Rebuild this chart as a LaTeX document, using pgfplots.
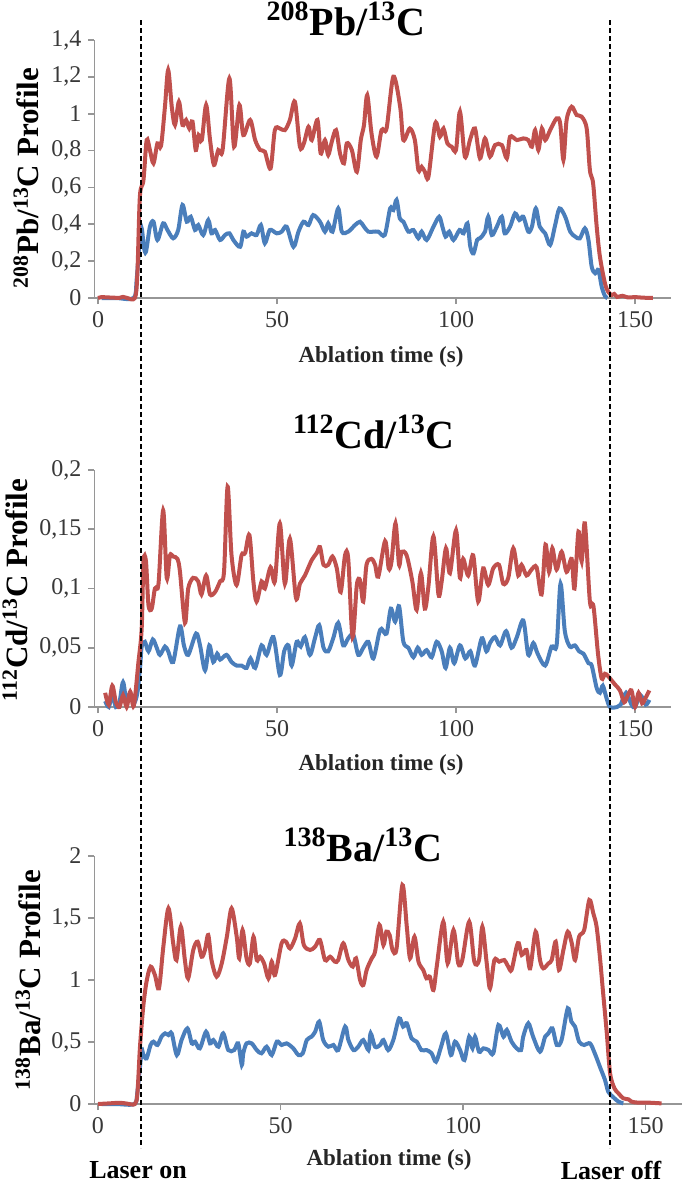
\documentclass[border=0pt]{standalone}
\usepackage{fontspec}
\setmainfont{Liberation Serif}
\usepackage{pgfplots}
\pgfplotsset{compat=1.18}
\definecolor{cred}{RGB}{192,80,77}
\definecolor{cblue}{RGB}{74,126,187}
\definecolor{axgray}{RGB}{150,150,150}
\pgfplotsset{panel/.style={
  scale only axis, xmin=-1, xmax=160, ymin=0,
  axis x line*=bottom, axis y line*=left,
  axis line style={draw=axgray, line width=0.8pt, -},
  every tick/.style={draw=axgray, line width=0.8pt},
  tick align=outside, major tick length=3pt,
  xtick={0,50,100,150}, xticklabels={0,50,100,150},
  tick label style={font=\fontsize{12}{14}\selectfont, text=black!78},
  scaled y ticks=false, scaled x ticks=false,
  anchor=south west, clip=false,
  every axis plot/.append style={line width=2pt, smooth, tension=0.5, no markers},
}}
\begin{document}
\begin{tikzpicture}
\useasboundingbox (0,0) rectangle (342.5pt,-591.5pt);
% ---------------- Panel 1 : Pb ----------------
\begin{axis}[panel, at={(47.21pt,-149pt)}, width=288.19pt, height=129pt, ymax=1.4,
  ytick={0,0.2,0.4,0.6,0.8,1,1.2,1.4}, yticklabels={0,{0,2},{0,4},{0,6},{0,8},1,{1,2},{1,4}}]
\addplot[cblue] coordinates {
(1,0)(5,0)(10,0)(10.8,0.1)(11.6,0.3)(12.2,0.378)(12.8,0.278)(13.4,0.251)(14.5,0.387)(15.5,0.414)(16.6,0.315)(18.2,0.405)(19.4,0.369)(21.0,0.324)(22.4,0.369)(23.6,0.505)(24.8,0.414)(25.9,0.441)(27.1,0.369)(28.0,0.396)(29.4,0.342)(30.8,0.423)(31.7,0.351)(32.7,0.369)(34.1,0.315)(35.5,0.342)(36.7,0.351)(37.8,0.315)(39.7,0.278)(40.6,0.360)(41.5,0.333)(42.9,0.351)(44.3,0.342)(45.5,0.396)(46.6,0.297)(48.0,0.369)(49.9,0.351)(51.3,0.360)(52.7,0.387)(54.6,0.278)(56.0,0.360)(57.4,0.414)(58.8,0.396)(60.1,0.450)(62.0,0.414)(63.4,0.360)(64.3,0.405)(65.5,0.360)(67.1,0.486)(68.1,0.360)(69.9,0.360)(71.8,0.396)(73.2,0.414)(74.3,0.387)(75.5,0.360)(76.9,0.360)(78.3,0.360)(80.1,0.342)(81.6,0.486)(82.5,0.477)(83.4,0.532)(84.3,0.432)(85.3,0.414)(86.7,0.360)(88.1,0.369)(89.5,0.324)(90.4,0.360)(91.8,0.315)(93.7,0.387)(95.3,0.441)(96.2,0.387)(97.1,0.333)(98.1,0.360)(99.3,0.315)(101.0,0.369)(102.1,0.351)(103.2,0.405)(104.0,0.278)(104.9,0.242)(105.9,0.315)(106.7,0.324)(108.1,0.360)(109.0,0.441)(110.0,0.342)(111.4,0.387)(112.8,0.441)(113.6,0.351)(115.1,0.387)(116.5,0.459)(117.7,0.423)(118.8,0.441)(120.2,0.360)(121.2,0.387)(122.3,0.486)(123.4,0.387)(124.9,0.351)(126.3,0.288)(127.7,0.396)(128.9,0.486)(130.5,0.441)(131.9,0.360)(133.3,0.333)(134.6,0.324)(136.0,0.378)(137.0,0.315)(137.9,0.170)(138.9,0.134)(139.8,0.152)(140.7,0.061)(141.6,0.011)(142.3,0)
};
\addplot[cred] coordinates {
(0,0)(1,0.005)(2,0.004)(4,0.002)(6,0.001)(7,0.006)(8,0.001)(10.3,0)(11.0,0.134)(11.7,0.552)(12.7,0.640)(13.6,0.857)(14.5,0.803)(15.5,0.731)(16.6,0.839)(17.6,0.825)(18.7,1.038)(19.6,1.237)(20.6,1.038)(21.5,0.939)(22.6,1.065)(23.6,0.939)(24.6,0.966)(25.5,0.920)(26.4,0.957)(27.3,0.803)(28.1,0.884)(29.0,0.857)(30.2,1.047)(31.3,0.857)(32.4,0.722)(33.6,0.803)(34.8,0.803)(36.7,1.192)(38.0,0.821)(39.5,1.047)(40.6,0.884)(42.5,0.966)(43.9,0.857)(45.3,0.803)(46.6,0.794)(48.2,0.703)(49.4,0.911)(50.8,0.920)(52.2,0.911)(53.6,0.966)(55.0,1.065)(56.4,0.821)(57.5,0.839)(58.8,0.929)(59.7,0.857)(61.3,0.966)(62.2,0.785)(63.4,0.857)(64.3,0.776)(65.3,0.848)(66.5,0.911)(67.6,0.785)(68.7,0.731)(69.5,0.839)(70.9,0.803)(72.3,0.685)(73.4,0.857)(74.3,0.939)(75.2,1.101)(76.4,0.893)(77.8,0.767)(79.2,0.911)(80.6,0.920)(82.5,1.201)(84.4,1.038)(85.3,0.857)(87.1,0.920)(88.5,0.857)(89.5,0.694)(90.4,0.712)(91.3,0.685)(92.3,0.658)(94.2,0.948)(95.5,0.875)(96.5,0.920)(97.6,0.839)(98.8,0.821)(100.0,0.803)(101.1,1.011)(102.5,0.767)(103.9,0.857)(105.3,0.920)(106.7,0.758)(108.1,0.866)(109.5,0.767)(110.9,0.830)(112.8,0.830)(114.2,0.758)(115.1,0.875)(117.0,0.857)(118.8,0.866)(120.2,0.857)(121.2,0.821)(122.1,0.911)(123.0,0.803)(124.0,0.920)(124.9,0.857)(126.3,0.911)(128.1,0.975)(129.1,0.948)(130.0,0.749)(130.9,0.966)(132.3,1.038)(133.7,0.993)(135.1,0.984)(136.5,0.920)(137.4,0.694)(138.3,0.622)(139.3,0.387)(140.2,0.224)(141.6,0.080)(142.5,0.034)(143.5,0.016)(144.2,0.022)(145.0,0.006)(146.5,0.012)(148,0.003)(150,0.005)(152,0.002)(155,0)
};
\end{axis}
% ---------------- Panel 2 : Cd ----------------
\begin{axis}[panel, at={(47.21pt,-353.5pt)}, width=288.19pt, height=118.5pt, ymax=0.2,
  ytick={0,0.05,0.1,0.15,0.2}, yticklabels={0,{0,05},{0,1},{0,15},{0,2}}]
\addplot[cblue] coordinates {
(2,0.005)(3,0.0)(4,0.010)(5,0.0)(6,0.004)(7,0.021)(8,0.004)(9,0.012)(10,0.003)(11,0.012)(11.8,0.035)(12.2,0.051)(13.1,0.055)(14.1,0.047)(15.3,0.057)(16.4,0.050)(17.3,0.044)(18.7,0.051)(19.6,0.047)(21.0,0.038)(22.9,0.068)(24.0,0.052)(25.2,0.044)(27.4,0.062)(28.5,0.052)(29.9,0.031)(31.1,0.052)(32.2,0.038)(33.3,0.045)(34.1,0.040)(35.9,0.044)(37.3,0.038)(38.7,0.035)(40.1,0.035)(41.5,0.033)(42.6,0.041)(43.9,0.033)(45.7,0.052)(47.1,0.044)(49.0,0.059)(50.8,0.027)(52.0,0.047)(53.2,0.052)(54.1,0.035)(55.5,0.055)(56.6,0.051)(57.8,0.059)(59.2,0.044)(60.6,0.058)(61.8,0.069)(63.0,0.050)(64.3,0.047)(65.7,0.058)(67.1,0.071)(68.5,0.052)(69.9,0.058)(71.3,0.061)(72.7,0.044)(74.1,0.050)(75.5,0.055)(76.9,0.041)(78.5,0.062)(79.2,0.066)(80.6,0.062)(81.8,0.083)(83.0,0.072)(84.1,0.085)(85.3,0.055)(86.7,0.050)(88.1,0.042)(89.3,0.050)(90.4,0.044)(91.8,0.048)(93.2,0.042)(94.6,0.055)(96.0,0.047)(97.1,0.033)(98.3,0.050)(99.5,0.037)(101.1,0.052)(102.6,0.041)(104.0,0.047)(105.3,0.035)(107.2,0.058)(108.5,0.047)(109.5,0.054)(110.9,0.059)(112.3,0.052)(114.0,0.064)(115.5,0.050)(117.0,0.059)(118.8,0.073)(120.2,0.044)(121.6,0.054)(122.8,0.045)(124.9,0.035)(126.7,0.051)(128.1,0.052)(129.2,0.104)(130.4,0.064)(131.8,0.051)(133.2,0.052)(134.4,0.047)(135.6,0.045)(137.0,0.037)(137.9,0.035)(139.3,0.016)(140.2,0.012)(141,0.018)(142,0.008)(143,0.0)(145,0.0)(146,0.002)(147.5,0.012)(149,0.002)(150,0.0)(151.5,0.010)(153,0.002)(154,0.006)
};
\addplot[cred] coordinates {
(2,0.012)(3,0.002)(4,0.018)(5,0.004)(6,0.0)(7,0.010)(8,0.0)(9,0.013)(10,0.001)(11.3,0.038)(12.2,0.066)(12.7,0.123)(13.4,0.123)(14.1,0.086)(15.0,0.083)(15.9,0.100)(16.9,0.104)(18.2,0.166)(19.2,0.109)(20.1,0.128)(21.0,0.127)(22.2,0.125)(22.9,0.114)(24.3,0.071)(25.2,0.100)(26.6,0.109)(28.0,0.106)(28.9,0.095)(30.2,0.111)(31.3,0.095)(32.7,0.097)(34.1,0.106)(35.2,0.114)(36.2,0.186)(37.3,0.128)(38.7,0.103)(40.1,0.128)(41.1,0.130)(42.3,0.145)(43.4,0.106)(44.3,0.089)(45.7,0.106)(46.6,0.100)(48.2,0.118)(49.4,0.106)(50.8,0.155)(52.2,0.104)(53.6,0.142)(55.3,0.092)(56.4,0.104)(57.8,0.111)(59.7,0.124)(61.1,0.130)(62.0,0.135)(63.0,0.120)(64.3,0.120)(65.5,0.127)(66.7,0.117)(67.8,0.097)(69.0,0.128)(69.9,0.125)(71.1,0.059)(72.3,0.103)(73.2,0.107)(74.1,0.089)(75.0,0.120)(76.4,0.125)(77.4,0.120)(78.3,0.110)(80.2,0.140)(81.2,0.117)(82.0,0.123)(83.1,0.155)(84.1,0.120)(84.8,0.131)(86.2,0.128)(87.8,0.106)(89.0,0.082)(90.2,0.113)(91.3,0.083)(92.3,0.102)(93.7,0.144)(95.1,0.095)(96.0,0.106)(97.2,0.134)(98.3,0.113)(100.0,0.149)(101.1,0.109)(102.0,0.125)(103.4,0.111)(104.8,0.128)(106.2,0.089)(107.6,0.117)(109.0,0.103)(110.4,0.117)(112.0,0.120)(113.2,0.104)(114.6,0.109)(116.0,0.134)(117.4,0.111)(118.3,0.120)(119.7,0.111)(121.1,0.116)(122.5,0.118)(123.9,0.095)(125.0,0.137)(126.0,0.114)(126.9,0.134)(128.1,0.116)(129.5,0.131)(130.9,0.114)(132.3,0.125)(133.1,0.100)(134.2,0.148)(135.1,0.123)(136.0,0.155)(137.4,0.089)(138.4,0.085)(139.7,0.044)(140.7,0.024)(141.6,0.028)(142.5,0.026)(144.4,0.019)(145.8,0.014)(147,0.004)(148,0.010)(149,0.014)(150,0.0)(151,0.012)(152,0.003)(153,0.008)(154,0.014)
};
\end{axis}
% ---------------- Panel 3 : Ba ----------------
\begin{axis}[panel, at={(47.175pt,-552pt)}, width=293.825pt, height=124pt, ymax=2,
  ytick={0,0.5,1,1.5,2}, yticklabels={0,{0,5},1,{1,5},2}]
\addplot[cblue] coordinates {
(1,0)(5,0)(10,0)(10.8,0.1)(11.5,0.3)(12.0,0.435)(12.4,0.40)(13.3,0.368)(14.4,0.476)(15.2,0.503)(16.3,0.476)(17.4,0.543)(18.4,0.570)(19.3,0.556)(20.2,0.570)(21.6,0.395)(22.9,0.516)(24.5,0.610)(25.7,0.489)(26.6,0.503)(27.9,0.449)(29.6,0.583)(30.7,0.489)(31.6,0.516)(33.0,0.462)(34.3,0.570)(35.7,0.435)(37.3,0.435)(38.4,0.489)(39.4,0.315)(39.8,0.409)(40.7,0.489)(42.1,0.489)(43.5,0.435)(44.8,0.409)(46.2,0.462)(47.6,0.395)(49.0,0.503)(50.3,0.476)(51.7,0.489)(53.5,0.449)(54.9,0.395)(56.1,0.409)(57.2,0.516)(58.5,0.543)(59.5,0.583)(60.6,0.664)(61.7,0.516)(63.1,0.462)(64.5,0.476)(65.8,0.435)(67.7,0.624)(68.6,0.516)(70.0,0.435)(71.3,0.462)(72.7,0.516)(74.1,0.435)(74.7,0.570)(75.9,0.462)(77.3,0.476)(78.2,0.516)(79.5,0.435)(80.9,0.516)(82.5,0.691)(83.6,0.624)(84.6,0.651)(85.9,0.530)(87.3,0.503)(88.6,0.435)(90.0,0.435)(91.4,0.409)(92.6,0.341)(94.0,0.462)(95.3,0.570)(96.7,0.395)(97.8,0.503)(99.2,0.435)(100.4,0.355)(101.7,0.543)(102.6,0.449)(103.3,0.543)(104.4,0.422)(105.6,0.449)(107.0,0.435)(108.3,0.409)(109.7,0.637)(111.1,0.543)(112.0,0.597)(113.3,0.503)(114.7,0.449)(115.9,0.435)(116.5,0.543)(117.9,0.651)(119.2,0.543)(121.1,0.422)(122.5,0.543)(123.4,0.570)(124.5,0.610)(125.7,0.476)(127.0,0.516)(128.7,0.772)(129.7,0.664)(130.7,0.624)(131.8,0.503)(133.2,0.476)(134.8,0.489)(136.1,0.409)(137.5,0.301)(138.9,0.194)(139.8,0.099)(141.2,0.054)(142.6,0.019)(143.9,0.005)
};
\addplot[cred] coordinates {
(0,0)(3,0.005)(6,0.010)(8,0.003)(10.1,0)(10.8,0.086)(11.5,0.46)(12.4,0.785)(13.3,0.987)(14.4,1.108)(15.6,1.040)(16.7,0.933)(17.9,1.269)(19.3,1.578)(20.6,1.296)(21.5,1.161)(22.7,1.430)(23.8,1.161)(24.7,1.013)(26.1,1.242)(27.3,1.309)(28.4,1.188)(29.3,1.242)(30.2,1.363)(31.1,1.161)(32.5,1.027)(33.9,1.134)(35.3,1.349)(36.6,1.578)(38.0,1.349)(38.7,1.175)(39.6,1.403)(40.7,1.175)(41.6,1.134)(42.6,1.349)(43.5,1.161)(44.4,1.188)(45.5,1.134)(46.7,1.013)(47.6,1.148)(48.5,1.040)(50.3,1.296)(51.5,1.309)(52.6,1.255)(54.0,1.336)(55.3,1.457)(56.4,1.282)(58.1,1.242)(59.5,1.269)(60.8,1.323)(62.2,1.161)(63.6,1.188)(64.9,1.148)(65.8,1.161)(67.2,1.296)(68.6,1.161)(69.8,1.108)(70.7,1.175)(71.8,1.000)(72.7,0.960)(73.6,1.081)(75.0,1.175)(75.9,1.228)(77.1,1.444)(78.2,1.282)(79.0,1.390)(79.9,1.363)(80.7,1.242)(81.8,1.255)(83.4,1.766)(84.6,1.430)(85.5,1.175)(86.7,1.349)(87.8,1.148)(89.1,1.081)(90.0,1.013)(90.9,1.027)(91.9,0.919)(92.8,1.108)(94.6,1.470)(95.8,1.134)(97.4,1.403)(98.7,1.134)(99.8,1.161)(101.7,1.470)(103.1,1.148)(104.4,1.161)(105.3,1.430)(106.5,1.134)(107.4,0.933)(108.6,1.161)(109.9,1.148)(111.3,1.161)(112.4,1.108)(113.3,1.081)(114.7,1.269)(115.3,1.296)(116.1,1.202)(117.4,1.242)(118.4,1.094)(119.9,1.390)(121.1,1.161)(122.0,1.094)(123.4,1.134)(124.3,1.161)(125.4,1.309)(126.3,1.081)(127.5,1.242)(128.7,1.390)(129.8,1.296)(130.7,1.161)(131.8,1.349)(133.2,1.403)(134.6,1.645)(135.7,1.538)(136.6,1.430)(137.5,1.188)(138.4,0.892)(139.4,0.570)(140.3,0.247)(141.5,0.126)(142.6,0.086)(143.9,0.046)(145.3,0.038)(146.2,0.019)(148.0,0.011)(150.8,0.011)(154.4,0.005)
};
\end{axis}
% ---------------- Annotations ----------------
\draw[black, line width=0.9pt, dash pattern=on 2.6pt off 1.4pt] (70.5pt,-10pt) -- (70.5pt,-574pt);
\draw[black, line width=0.9pt, dash pattern=on 2.6pt off 1.4pt] (305pt,-10pt) -- (305pt,-574pt);
\node[font=\fontsize{20}{22}\selectfont\bfseries, anchor=north, inner sep=0pt] at (173pt,-0.8pt) {\textsuperscript{208}Pb/\textsuperscript{13}C};
\node[font=\fontsize{20}{22}\selectfont\bfseries] at (187pt,-216pt) {\textsuperscript{112}Cd/\textsuperscript{13}C};
\node[font=\fontsize{20}{22}\selectfont\bfseries] at (181.5pt,-422.5pt) {\textsuperscript{138}Ba/\textsuperscript{13}C};
\node[rotate=90, font=\fontsize{15.5}{17}\selectfont\bfseries] at (13pt,-89pt) {\textsuperscript{208}Pb/\textsuperscript{13}C Profile};
\node[rotate=90, font=\fontsize{15.5}{17}\selectfont\bfseries] at (7.5pt,-295pt) {\textsuperscript{112}Cd/\textsuperscript{13}C Profile};
\node[rotate=90, font=\fontsize{15.5}{17}\selectfont\bfseries] at (14pt,-490pt) {\textsuperscript{138}Ba/\textsuperscript{13}C Profile};
\node[font=\fontsize{11.5}{13}\selectfont\bfseries, text=black!85] at (190.5pt,-178.5pt) {Ablation time (s)};
\node[font=\fontsize{11.5}{13}\selectfont\bfseries, text=black!85] at (190.5pt,-382.5pt) {Ablation time (s)};
\node[font=\fontsize{11.5}{13}\selectfont\bfseries, text=black!85] at (194.5pt,-580pt) {Ablation time (s)};
\node[font=\fontsize{13}{15}\selectfont\bfseries] at (69pt,-585pt) {Laser on};
\node[font=\fontsize{13}{15}\selectfont\bfseries] at (305.5pt,-585pt) {Laser off};
\end{tikzpicture}
\end{document}
